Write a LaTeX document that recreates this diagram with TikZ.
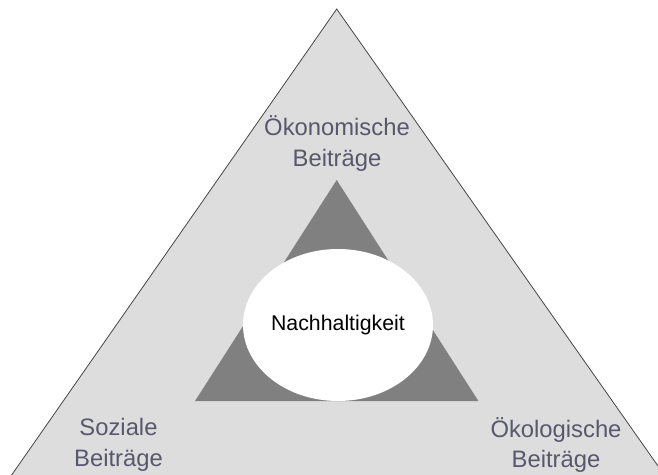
\documentclass[tikz,border=0pt]{standalone}
\usepackage{fontspec}
\setmainfont{Liberation Sans}
\usetikzlibrary{shapes.geometric}
\definecolor{outerfill}{RGB}{221,221,221}
\definecolor{outerline}{RGB}{70,70,70}
\definecolor{innerfill}{RGB}{128,128,128}
\definecolor{labelcol}{RGB}{88,88,108}
\begin{document}
\begin{tikzpicture}[x=1pt,y=-1pt,
  lbl/.style={text=labelcol,font=\fontsize{23.8}{30.5}\selectfont,align=center,inner sep=0pt},
  core/.style={ellipse,fill=white,minimum width=190pt,minimum height=152pt,inner sep=0pt,font=\fontsize{21.3}{24}\selectfont,text=black}]
\useasboundingbox (0,0) rectangle (658,474);
\begin{scope}
\clip (0,0) rectangle (658,474);
\path[fill=outerfill,draw=outerline,line width=0.8pt] (336.7,9) -- (1.2,490) -- (674.9,490) -- cycle;
\path[fill=innerfill] (336.7,180) -- (195,401) -- (478.4,401) -- cycle;
\end{scope}
\node[core] (n) at (338,325) {Nachhaltigkeit};
\node[lbl] (oek) at (337,143.5) {Ökonomische\\Beiträge};
\node[lbl] (soz) at (118.5,445) {Soziale\\Beiträge};
\node[lbl] (eco) at (556,445) {Ökologische\\Beiträge};
\end{tikzpicture}
\end{document}
